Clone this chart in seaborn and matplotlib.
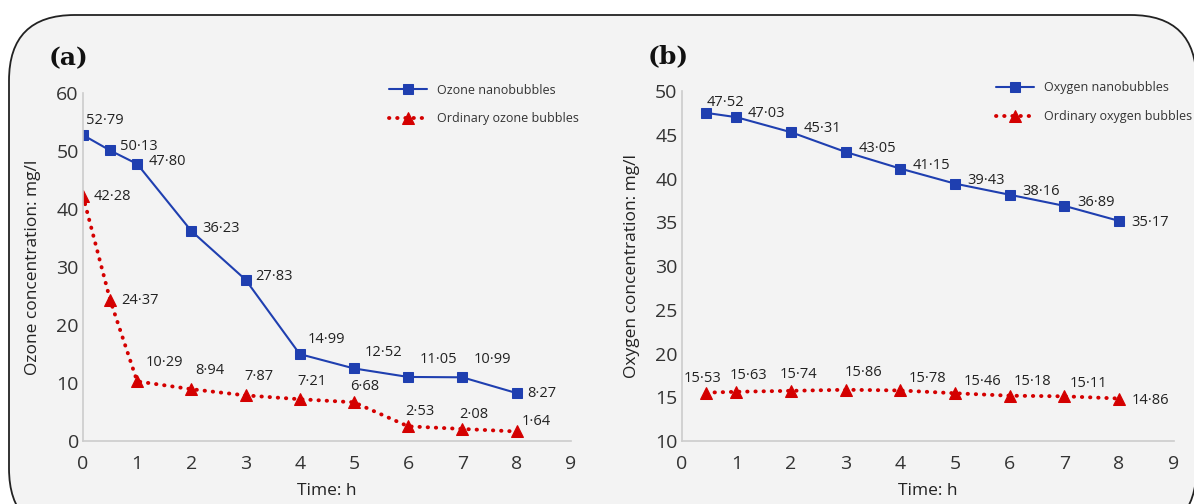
import numpy as np
import pandas as pd
import matplotlib.pyplot as plt
import seaborn as sns
from matplotlib.patches import FancyBboxPatch

# panel (a) - ozone
time_a = [0, 0.5, 1, 2, 3, 4, 5, 6, 7, 8]
ozone_nano = [52.79, 50.13, 47.80, 36.23, 27.83, 14.99, 12.52, 11.05, 10.99, 8.27]
ozone_ord = [42.28, 24.37, 10.29, 8.94, 7.87, 7.21, 6.68, 2.53, 2.08, 1.64]

# panel (b) - oxygen
time_b = [0.45, 1, 2, 3, 4, 5, 6, 7, 8]
oxy_nano = [47.52, 47.03, 45.31, 43.05, 41.15, 39.43, 38.16, 36.89, 35.17]
oxy_ord = [15.53, 15.63, 15.74, 15.86, 15.78, 15.46, 15.18, 15.11, 14.86]

BLUE = '#1f3fb0'
RED = '#d40000'

sns.set_style("white")
plt.rcParams['font.family'] = ['Open Sans', 'DejaVu Sans']

fig = plt.figure(figsize=(11.94, 5.04), dpi=100)
fig.patch.set_facecolor('white')

# rounded frame with light gray fill (runs past the right and bottom edges)
bg = FancyBboxPatch((9 / 1194, -30 / 504), 1194 / 1194 - 9 / 1194 + 0.002, (489 + 30) / 504,
                    boxstyle="round,pad=0,rounding_size=0.055",
                    transform=fig.transFigure, facecolor='#f3f3f3',
                    edgecolor='#222222', linewidth=1.3, zorder=-10,
                    mutation_aspect=1194 / 504)
fig.patches.append(bg)

ax_a = fig.add_axes([0.0695, 0.125, 0.4085, 0.69])
ax_b = fig.add_axes([0.571, 0.125, 0.412, 0.694])


def fmt(v):
    return f"{v:.2f}".replace('.', '·')


def draw(ax, x, nano, ordi, names, ylim, yticks, ylabel, tag, off_nano, off_ord, leg_x):
    df = pd.DataFrame({'t': x * 2, 'v': nano + ordi,
                       's': [names[0]] * len(x) + [names[1]] * len(x)})
    sns.lineplot(data=df[df.s == names[0]], x='t', y='v', ax=ax, color=BLUE,
                 marker='s', markersize=7.5, linewidth=1.5, markeredgecolor=BLUE,
                 label=names[0])
    sns.lineplot(data=df[df.s == names[1]], x='t', y='v', ax=ax, color=RED,
                 marker='^', markersize=8.5, linewidth=2.8, linestyle=(0, (0.1, 2.0)),
                 dash_capstyle='round', markeredgecolor=RED, label=names[1])
    for xi, yi, o in zip(x, nano, off_nano):
        ax.annotate(fmt(yi), (xi, yi), xytext=o, textcoords='offset points',
                    fontsize=10.5, color='#222222')
    for xi, yi, o in zip(x, ordi, off_ord):
        ax.annotate(fmt(yi), (xi, yi), xytext=o, textcoords='offset points',
                    fontsize=10.5, color='#222222')
    ax.set_xlim(0, 9)
    ax.set_ylim(*ylim)
    ax.set_xticks(range(10))
    ax.set_yticks(yticks)
    ax.tick_params(axis='both', labelsize=14, colors='#333333', length=0, pad=3)
    ax.tick_params(axis='x', length=5, color='#d0d0d0', direction='in', pad=10)
    ax.set_facecolor('none')
    sns.despine(ax=ax)
    for s in ['left', 'bottom']:
        ax.spines[s].set_color('#cccccc')
        ax.spines[s].set_linewidth(1.2)
    ax.set_xlabel('Time: h', fontsize=12.5, color='#222222', labelpad=7)
    ax.set_ylabel(ylabel, fontsize=12.5, color='#222222', labelpad=11)
    ax.text(-0.07, 1.08, tag, transform=ax.transAxes, fontsize=18,
            fontweight='bold', family='DejaVu Serif', color='#111111')
    leg = ax.legend(loc='upper left', bbox_to_anchor=(leg_x, 1.06), frameon=False,
                    fontsize=9, handlelength=3, labelspacing=1.25,
                    handletextpad=0.8)
    for t in leg.get_texts():
        t.set_color('#333333')


draw(ax_a, time_a, ozone_nano, ozone_ord,
     ['Ozone nanobubbles', 'Ordinary ozone bubbles'],
     (0, 60), range(0, 61, 10), 'Ozone concentration: mg/l', '(a)',
     [(2, 8), (7, 0), (8, -1), (8, -1), (7, 0), (6, 8), (8, 9), (8, 10), (8, 10), (8, -3)],
     [(8, -3), (8, -3), (6, 11), (3, 11), (-1, 11), (-2, 10), (-3, 9), (-2, 8), (-2, 8), (4, 5)],
     0.605)

draw(ax_b, time_b, oxy_nano, oxy_ord,
     ['Oxygen nanobubbles', 'Ordinary oxygen bubbles'],
     (10, 50), range(10, 51, 5), 'Oxygen concentration: mg/l', '(b)',
     [(0, 5), (8, 0), (9, 0), (9, 0), (9, 0), (9, 0), (9, 0), (9, 0), (9, -4)],
     [(-16, 8), (-5, 9), (-8, 9), (-1, 10), (6, 6), (6, 6), (3, 8), (4, 7), (9, -4)],
     0.616)

fig.savefig('out.png', dpi=100, facecolor=fig.get_facecolor())
